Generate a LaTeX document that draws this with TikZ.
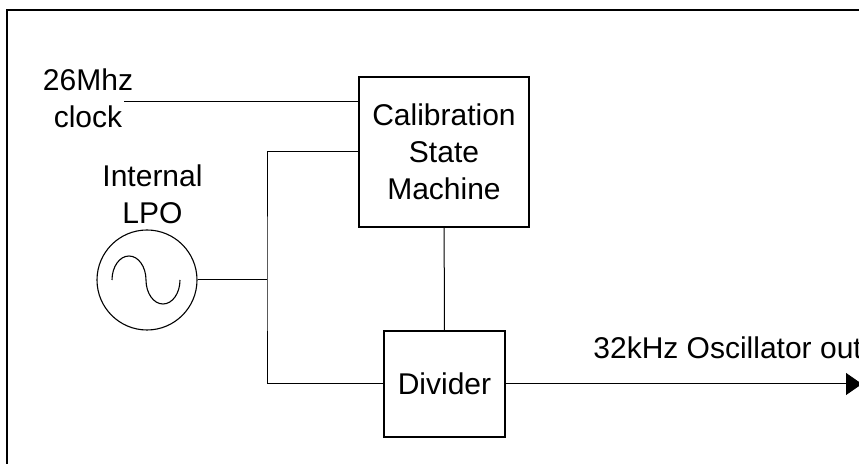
\documentclass[tikz,border=0pt]{standalone}
\usepackage{fontspec}
\setmainfont{Liberation Sans}
\usetikzlibrary{arrows.meta,positioning,calc}

\tikzset{
  block/.style={draw,line width=0.55pt,align=center,inner sep=0pt},
  lbl/.style={align=center,inner sep=0pt},
  wire/.style={line width=0.5pt}
}

\begin{document}
\begin{tikzpicture}[x=0.5pt,y=-0.5pt,font=\fontsize{15}{18.5}\selectfont]
        \useasboundingbox (0,0) rectangle (859,464);
        \draw[line width=1.1pt] (7,10) rectangle (875,480);
        % blocks
        \node[block,minimum width=85pt,minimum height=75pt] (csm) at (444,152) {Calibration\\State\\Machine};
        \node[block,minimum width=60.5pt,minimum height=53pt] (div) at (444.5,384) {Divider};
        \node[draw,circle,line width=0.55pt,minimum size=50pt] (lpo) at (147,280) {};
        \draw[line width=0.55pt] (112,280) arc[start angle=180,end angle=360,x radius=17,y radius=24]
          arc[start angle=180,end angle=0,x radius=17,y radius=24];
        % labels
        \node[lbl] (clklbl) at (88,98) {26Mhz\\clock};
        \node[lbl] (lpolbl) at (152.5,194) {Internal\\LPO};
        \node[lbl,anchor=base west] (outlbl) at (593,359) {32kHz Oscillator out};
        % wiring
        \coordinate (clk) at (124,102);
        \coordinate (tap) at (267,280);
        \coordinate (outend) at (862,384);
        \draw[wire] (clk) -- (clk -| csm.west);
        \draw[wire] (csm.west) -| (tap) |- (div.west);
        \draw[wire] (lpo) -- (tap);
        \draw[wire] (csm) -- (div);
        \draw[wire,-{Triangle[length=8pt,width=11pt]}] (div.east) -- (outend);
      \end{tikzpicture}
\end{document}
